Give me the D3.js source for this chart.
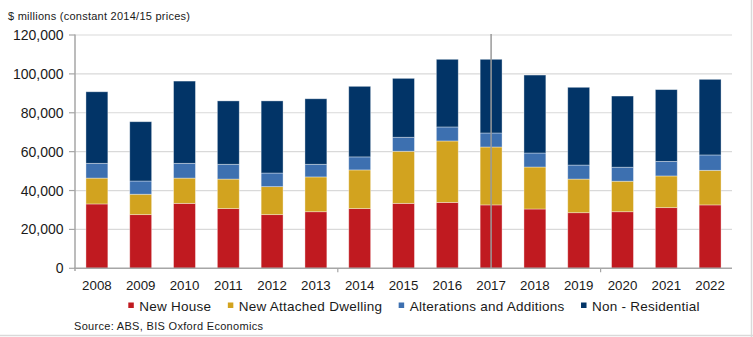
<!DOCTYPE html>
<html>
<head>
<meta charset="utf-8">
<script src="https://cdn.jsdelivr.net/npm/d3@7"></script>
<style>
  body { margin: 0; background: #fff; }
  svg { display: block; font-family: Arial, "Liberation Sans", sans-serif; }
</style>
</head>
<body>
<div class="container"></div>
<script>
const years = ["2008","2009","2010","2011","2012","2013","2014","2015","2016","2017","2018","2019","2020","2021","2022"]

// $ millions, constant 2014/15 prices
const newHouse      = [33100,27600,33400,30700,27600,29100,30700,33400,33900,32600,30500,28600,29100,31200,32600]
const newAttached   = [13300,10500,13000,15200,14400,17900,19900,26800,31600,29800,21600,17300,15700,16300,17800]
const alterations   = [ 7600, 6800, 7600, 7600, 7000, 6500, 6700, 7200, 7200, 7200, 7200, 7200, 7200, 7500, 7900]
const nonResidential= [36800,30500,42300,32600,37100,33700,36300,30300,34800,37900,40100,40000,36600,36900,38900]

const seriesNames = ["New House","New Attached Dwelling","Alterations and Additions","Non - Residential"]
const seriesColors = ["#c01a20","#d2a31f","#3d70b0","#023467"]
const yTicks = [0,20000,40000,60000,80000,100000,120000]
const markedYear = "2017"

const width = 753, height = 337

const svg = d3.select(".container")
              .append("svg")
              .attr("width", width)
              .attr("height", height)

// frame lines on right and bottom
svg.append("line").attr("x1", width-1.5).attr("x2", width-1.5).attr("y1", 0).attr("y2", height)
   .attr("stroke", "#d9d9d9").attr("stroke-width", 1.5)
svg.append("line").attr("x1", 0).attr("x2", width).attr("y1", 335.5).attr("y2", 335.5)
   .attr("stroke", "#d9d9d9").attr("stroke-width", 1.5)

const x = d3.scaleBand()
            .domain(years)
            .range([75, 732])
            .paddingInner(0.5)
            .paddingOuter(0.25)

const y = d3.scaleLinear()
            .domain([0, 120000])
            .range([268.3, 35])

// gridlines
svg.append("g")
   .selectAll("line")
   .data(yTicks.slice(1))
   .enter()
   .append("line")
   .attr("x1", 75).attr("x2", 732)
   .attr("y1", d => y(d)).attr("y2", d => y(d))
   .attr("stroke", "#d9d9d9")
   .attr("stroke-width", 1.2)

// stacked bars
const table = years.map((yr, i) => ({
    year: yr,
    "New House": newHouse[i],
    "New Attached Dwelling": newAttached[i],
    "Alterations and Additions": alterations[i],
    "Non - Residential": nonResidential[i]
}))

const stack = d3.stack().keys(seriesNames)(table)

svg.append("g")
   .selectAll("g")
   .data(stack)
   .enter()
   .append("g")
   .attr("fill", (s, i) => seriesColors[i])
   .selectAll("rect")
   .data(s => s)
   .enter()
   .append("rect")
   .attr("x", d => x(d.data.year))
   .attr("width", x.bandwidth())
   .attr("y", d => y(d[1]))
   .attr("height", d => y(d[0]) - y(d[1]))
   .attr("stroke", "#ffffff")
   .attr("stroke-opacity", 0.45)
   .attr("stroke-width", 0.8)

// vertical marker at 2017
svg.append("line")
   .attr("x1", x(markedYear) + x.bandwidth()/2)
   .attr("x2", x(markedYear) + x.bandwidth()/2)
   .attr("y1", 34).attr("y2", y(0))
   .attr("stroke", "#9a9a9a")
   .attr("stroke-width", 1.5)

// y axis
const yAxis = svg.append("g")
yAxis.append("line")
     .attr("x1", 75).attr("x2", 75).attr("y1", 34.5).attr("y2", 271)
     .attr("stroke", "#a6a6a6").attr("stroke-width", 1.5)
yAxis.selectAll(".tick")
     .data(yTicks)
     .enter()
     .append("line")
     .attr("x1", 69).attr("x2", 75)
     .attr("y1", d => y(d)).attr("y2", d => y(d))
     .attr("stroke", "#a6a6a6").attr("stroke-width", 1.2)
yAxis.selectAll("text")
     .data(yTicks)
     .enter()
     .append("text")
     .attr("x", 63.5)
     .attr("y", d => y(d))
     .attr("dy", "0.36em")
     .attr("text-anchor", "end")
     .style("font-size", "14px")
     .attr("fill", "#1a1a1a")
     .text(d => d3.format(",")(d))

// x axis
const xAxis = svg.append("g")
xAxis.append("line")
     .attr("x1", 74).attr("x2", 732).attr("y1", y(0)).attr("y2", y(0))
     .attr("stroke", "#a6a6a6").attr("stroke-width", 1.5)
xAxis.selectAll(".tick")
     .data([years[6], years[12]])
     .enter()
     .append("line")
     .attr("x1", d => x(d) - x.step()*x.paddingInner()/2)
     .attr("x2", d => x(d) - x.step()*x.paddingInner()/2)
     .attr("y1", y(0)).attr("y2", y(0) + 4)
     .attr("stroke", "#a6a6a6").attr("stroke-width", 1.2)
xAxis.selectAll("text")
     .data(years)
     .enter()
     .append("text")
     .attr("x", d => x(d) + x.bandwidth()/2)
     .attr("y", 289.5)
     .attr("text-anchor", "middle")
     .style("font-size", "13.3px")
     .attr("fill", "#1a1a1a")
     .text(d => d)

// unit label
svg.append("text")
   .attr("x", 8)
   .attr("y", 20)
   .attr("textLength", 182)
   .attr("lengthAdjust", "spacing")
   .style("font-size", "11px")
   .attr("fill", "#1a1a1a")
   .text("$ millions (constant 2014/15 prices)")

// legend
const legend = svg.append("g")
let lx = 128.3
seriesNames.forEach((name, i) => {
    legend.append("rect")
          .attr("x", lx).attr("y", 302.5)
          .attr("width", 5.5).attr("height", 5.5)
          .attr("fill", seriesColors[i])
    const t = legend.append("text")
          .attr("x", lx + 11)
          .attr("y", 310.5)
          .style("font-size", "13.5px")
          .style("letter-spacing", "0.25px")
          .attr("fill", "#1a1a1a")
          .text(name)
    lx += 11 + t.node().getComputedTextLength() + 16.5
})

// source note
svg.append("text")
   .attr("x", 74)
   .attr("y", 330)
   .attr("textLength", 189)
   .attr("lengthAdjust", "spacing")
   .style("font-size", "11px")
   .attr("fill", "#1a1a1a")
   .text("Source: ABS, BIS Oxford Economics")
</script>
</body>
</html>
